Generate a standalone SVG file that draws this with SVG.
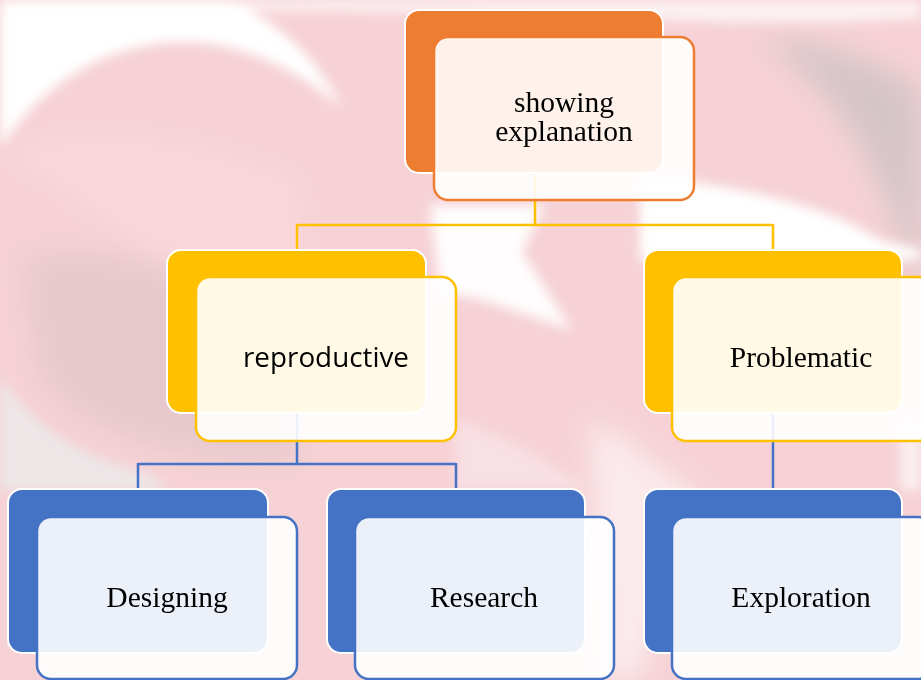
<svg xmlns="http://www.w3.org/2000/svg" width="921" height="680" viewBox="0 0 921 680">
<defs>
<filter id="blur" x="-20%" y="-20%" width="140%" height="140%"><feGaussianBlur stdDeviation="6"/></filter>
<filter id="blur2" x="-20%" y="-20%" width="140%" height="140%"><feGaussianBlur stdDeviation="14"/></filter>
<style>
.back{stroke:#ffffff;stroke-width:2}
.front{fill:#ffffff;fill-opacity:0.9;stroke-width:2.5}
.orange .back{fill:#ED7D31}.orange .front{stroke:#ED7D31}
.yellow .back{fill:#FFC000}.yellow .front{stroke:#FFC000}
.blue .back{fill:#4472C4}.blue .front{stroke:#4472C4}
.serif{font-family:"Liberation Serif","Times New Roman",serif;font-size:29.5px;fill:#000;text-anchor:middle}
.sans{font-family:"Open Sans","Noto Sans",sans-serif;font-size:27.5px;fill:#000;text-anchor:middle}
.yl{stroke:#FFC000;stroke-width:2.5;fill:none}
.bl{stroke:#4472C4;stroke-width:2.5;fill:none}
</style>
</defs>
<g id="background">
<rect x="0" y="0" width="921" height="680" fill="#F6D2D6"/>
<g filter="url(#blur2)">
<path d="M0,150 C120,220 200,300 300,350 L300,180 C200,140 100,120 0,150 Z" fill="#FBDADD" opacity="0.7"/>
<path d="M20,260 C80,240 220,260 290,330 L300,460 C200,470 90,440 40,380 Z" fill="#E3C7CB" opacity="0.8"/>
<path d="M760,40 C830,80 880,160 921,300 L921,90 C880,60 820,40 760,40 Z" fill="#D6C5C7"/>
<path d="M590,420 C640,440 660,480 700,490 L640,680 L600,680 Z" fill="#FBEAEC"/>
</g>
<g filter="url(#blur)">
<path d="M0,0 L921,0 L921,18 C800,28 650,20 540,15 L240,10 Z" fill="#FCF1F2"/>
<path d="M0,0 L228,0 C280,22 318,60 342,108 C300,72 252,46 192,42 C112,40 44,80 0,148 Z" fill="#FFFFFF"/>
<path d="M0,375 C30,425 80,458 150,474 L170,490 L0,490 Z" fill="#ECE6E7"/>
<path d="M640,175 C720,185 820,200 880,240 L921,250 L921,260 L640,260 Z" fill="#FFFFFF"/>
<path d="M430,205 L545,205 L522,252 L572,330 L482,300 L440,292 Z" fill="#FFFFFF" opacity="0.95"/>
<path d="M456,420 C520,440 560,470 590,490 L456,490 Z" fill="#F9E4E7" opacity="0.8"/>
<path d="M900,420 L921,420 L921,490 L900,490 Z" fill="#FBEFF0"/>
</g>
</g>
<g id="connectors">
<path class="yl" d="M535,173 V225 M297,225 H773 M297,224 V250 M773,224 V250"/>
<path class="bl" d="M297,413 V464 M138,464 H456 M138,463 V489 M456,463 V489 M773,413 V489"/>
</g>
<g id="node-showing-explanation" class="orange">
<rect class="back" x="405" y="10" width="258" height="163" rx="14"/>
<rect class="front" x="434" y="37" width="260" height="163" rx="14"/>
<text class="serif" x="564" y="112">showing</text>
<text class="serif" x="564" y="141">explanation</text>
</g>
<g id="node-reproductive" class="yellow">
<rect class="back" x="167" y="250" width="259" height="163" rx="14"/>
<rect class="front" x="196" y="277" width="260" height="164" rx="14"/>
<text class="sans" x="326" y="367" textLength="166" lengthAdjust="spacingAndGlyphs">reproductive</text>
</g>
<g id="node-problematic" class="yellow">
<rect class="back" x="644" y="250" width="258" height="163" rx="14"/>
<rect class="front" x="672" y="277" width="260" height="164" rx="14"/>
<text class="serif" x="801" y="367">Problematic</text>
</g>
<g id="node-designing" class="blue">
<rect class="back" x="8" y="489" width="260" height="164" rx="14"/>
<rect class="front" x="37" y="517" width="260" height="162" rx="14"/>
<text class="serif" x="167" y="607">Designing</text>
</g>
<g id="node-research" class="blue">
<rect class="back" x="327" y="489" width="258" height="164" rx="14"/>
<rect class="front" x="355" y="517" width="259" height="162" rx="14"/>
<text class="serif" x="484" y="607">Research</text>
</g>
<g id="node-exploration" class="blue">
<rect class="back" x="644" y="489" width="258" height="164" rx="14"/>
<rect class="front" x="672" y="517" width="260" height="162" rx="14"/>
<text class="serif" x="801" y="607">Exploration</text>
</g>
</svg>
